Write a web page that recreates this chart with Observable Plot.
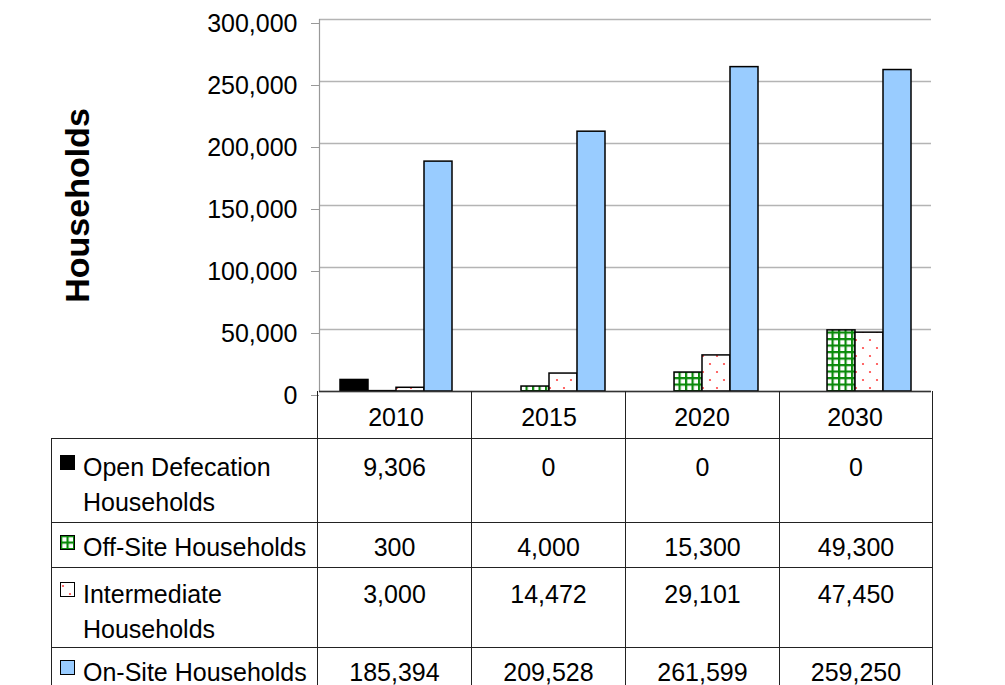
<!DOCTYPE html>
<html><head><meta charset="utf-8">
<script src="https://cdn.jsdelivr.net/npm/d3@7"></script>
<script src="https://cdn.jsdelivr.net/npm/@observablehq/plot@0.6"></script>
<style>
html,body{margin:0;padding:0;background:#fff;overflow:hidden;}
#wrap{position:relative;width:1005px;height:685px;font-family:"Liberation Sans",Arial,sans-serif;}
#tbl{position:absolute;left:51px;top:391px;border-collapse:collapse;table-layout:fixed;width:881px;font-size:25px;color:#000;}
#tbl td{border:1px solid #222;vertical-align:top;text-align:center;padding:9px 0 0 0;line-height:35px;box-sizing:border-box;}
#tbl tr.head td{border-top:none;padding:0;}
#tbl tr.head td:first-child{border-left:none;}
#tbl td.lab{text-align:left;padding-left:8px;}
.legrow{display:flex;align-items:flex-start;}
.legrow svg{flex:none;margin-top:5px;margin-right:8px;}
.legrow span{white-space:pre-line;}
</style>
</head><body>
<svg width="0" height="0" style="position:absolute">
  <defs>
    <pattern id="offsite-grid" patternUnits="userSpaceOnUse" width="6.5" height="6.5">
      <rect width="6.5" height="6.5" fill="#fff"/>
      <rect width="2.2" height="6.5" fill="#0a8a0a"/>
      <rect width="6.5" height="2.2" fill="#0a8a0a"/>
    </pattern>
    <pattern id="intermediate-dots" patternUnits="userSpaceOnUse" width="14" height="16">
      <rect width="14" height="16" fill="#fff"/>
      <circle cx="3" cy="4" r="1.1" fill="#f44"/>
      <circle cx="10" cy="12" r="1.1" fill="#f44"/>
    </pattern>
  </defs>
</svg>
<div id="wrap"></div>
<script>
const years = ["2010", "2015", "2020", "2030"];
const series = ["Open Defecation Households", "Off-Site Households", "Intermediate Households", "On-Site Households"];
const legendLabels = ["Open Defecation\nHouseholds", "Off-Site Households", "Intermediate\nHouseholds", "On-Site Households"];
const openDefecation = [9306, 0, 0, 0];
const offSite = [300, 4000, 15300, 49300];
const intermediate = [3000, 14472, 29101, 47450];
const onSite = [185394, 209528, 261599, 259250];
const yTicks = [0, 50000, 100000, 150000, 200000, 250000, 300000];
const seriesFills = ["#000000", "url(#offsite-grid)", "url(#intermediate-dots)", "#99ccff"];

const seriesValues = [openDefecation, offSite, intermediate, onSite];
const data = years.flatMap((year, i) => series.map((s, j) => ({year, series: s, value: seriesValues[j][i]})));
const fmt = d3.format(",");

const chart = Plot.plot({
  width: 1005,
  height: 438,
  marginTop: 19,
  marginBottom: 47,
  marginLeft: 317,
  marginRight: 73,
  style: {fontFamily: "'Liberation Sans', Arial, sans-serif", fontSize: "25px", color: "#000", background: "transparent", overflow: "visible"},
  fx: {domain: years, padding: 0, label: null, axis: null},
  x: {domain: series, axis: null, paddingInner: 0, paddingOuter: 0.675, align: 0.5},
  y: {domain: [0, 300000], axis: null},
  color: {domain: series, range: seriesFills},
  marks: [
    Plot.gridY(yTicks, {stroke: "#b4b4b4", strokeOpacity: 1, strokeWidth: 1.5}),
    Plot.frame({anchor: "left", facetAnchor: "left", stroke: "#999", strokeWidth: 1.2}),
    Plot.axisY(yTicks, {tickSize: 8, tickPadding: 14, tickFormat: fmt, stroke: "#999", fill: "#000", dy: 4, label: null}),
    Plot.text(["Households"], {frameAnchor: "left", textAnchor: "middle", rotate: -90, dx: -241, fontWeight: "bold", fontSize: 34, facetAnchor: "left", fill: "#000"}),
    Plot.barY(data, {fx: "year", x: "series", y: "value", fill: "series", stroke: "#000", strokeWidth: 1.5}),
    Plot.ruleY([0], {stroke: "#333", strokeWidth: 1.5}),
    Plot.axisFx({anchor: "bottom", tickSize: 0, tickPadding: 17, label: null, fill: "#000"})
  ]
});

const wrap = document.getElementById("wrap");
wrap.appendChild(chart);

// data table below the plot
const tbl = document.createElement("table");
tbl.id = "tbl";
const colW = [266, 154, 154, 154, 153];
const cg = document.createElement("colgroup");
colW.forEach(w => { const c = document.createElement("col"); c.style.width = w + "px"; cg.appendChild(c); });
tbl.appendChild(cg);
const head = document.createElement("tr");
head.className = "head";
head.style.height = "47px";
for (let k = 0; k <= years.length; k++) head.appendChild(document.createElement("td"));
tbl.appendChild(head);
const rowH = [84, 45, 80, 45];
const rowPad = [11, 7, 9, 7];
series.forEach((s, j) => {
  const tr = document.createElement("tr");
  tr.style.height = rowH[j] + "px";
  const lab = document.createElement("td");
  lab.className = "lab";
  lab.style.paddingTop = rowPad[j] + "px";
  const div = document.createElement("div");
  div.className = "legrow";
  div.innerHTML = `<svg width="15" height="15"><rect x="0.5" y="0.5" width="14" height="14" fill="${seriesFills[j]}" stroke="#000" stroke-width="1"/></svg>`;
  const span = document.createElement("span");
  span.textContent = legendLabels[j];
  div.appendChild(span);
  lab.appendChild(div);
  tr.appendChild(lab);
  seriesValues[j].forEach(v => {
    const td = document.createElement("td");
    td.style.paddingTop = rowPad[j] + "px";
    td.textContent = fmt(v);
    tr.appendChild(td);
  });
  tbl.appendChild(tr);
});
wrap.appendChild(tbl);
</script>
</body></html>
